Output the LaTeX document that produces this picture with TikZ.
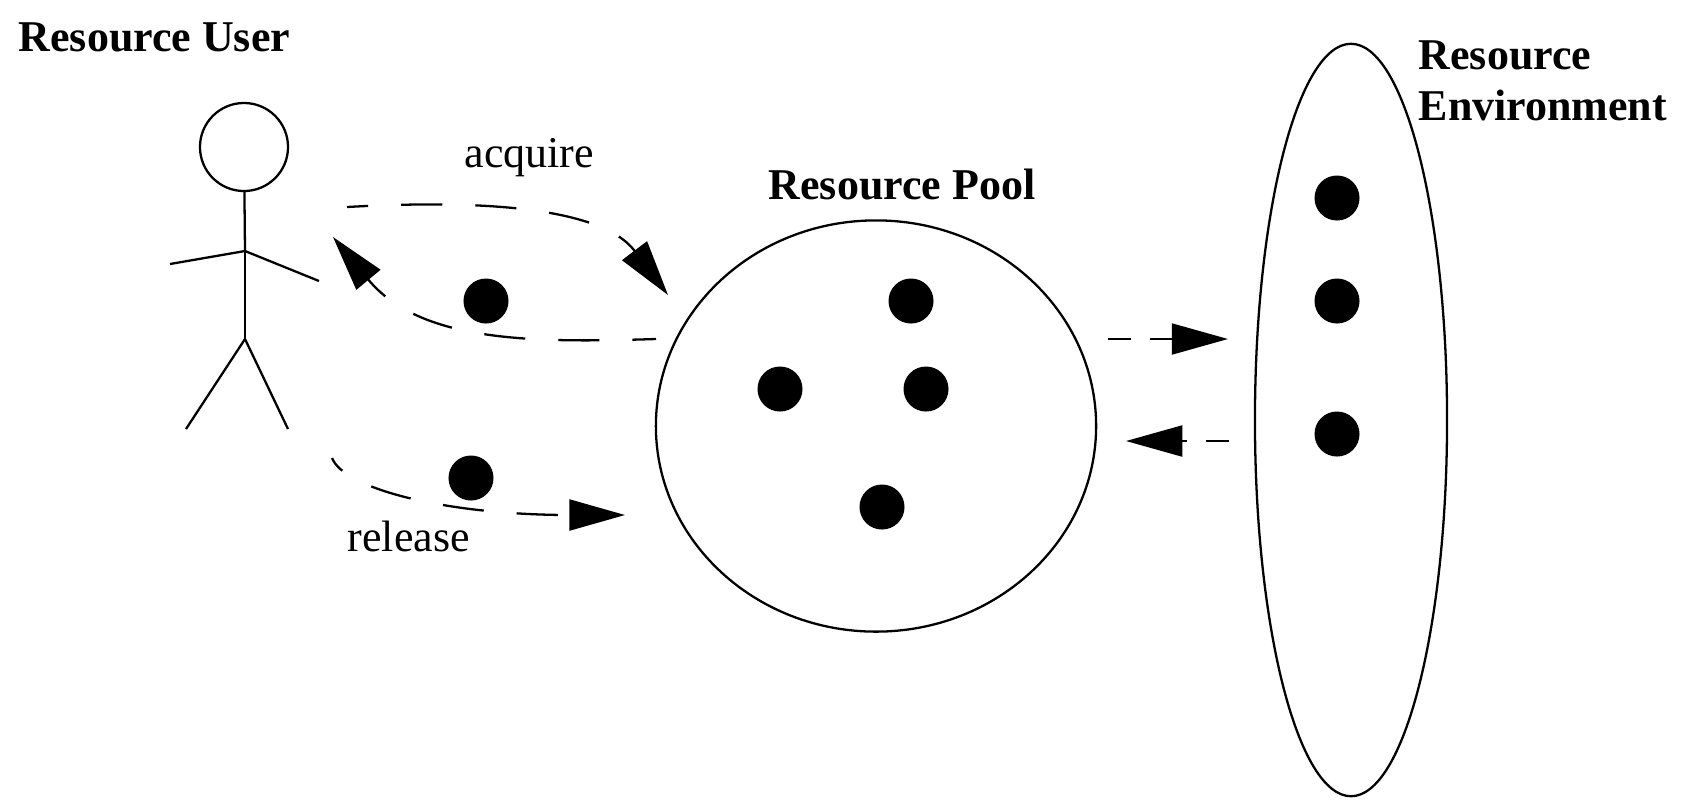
\documentclass[tikz,border=0pt]{standalone}
\usepackage{fontspec}
\setmainfont{Liberation Serif}
\usetikzlibrary{arrows.meta,shapes.geometric}
\tikzset{%
	title/.style    = {font=\fontsize{12.5}{14.5}\selectfont\bfseries, inner sep=0pt, anchor=base west, align=left},
	call/.style     = {font=\fontsize{12.5}{14.5}\selectfont, inner sep=0pt, anchor=base west},
	token/.style    = {circle, fill=black, minimum size=0.45cm, inner sep=0pt},
	waypoint/.style = {coordinate},
	limb/.style     = {line width=0.65pt},
	flow/.style     = {line width=0.65pt, dash pattern=on 11.7pt off 9.4pt, -{Triangle[length=15.8pt,width=8.8pt]}},
	shortflow/.style= {line width=0.65pt, dash pattern=on 6.5pt off 5.4pt, -{Triangle[length=16pt,width=8.8pt]}},
}
\begin{document}
\begin{tikzpicture}[x=0.01cm,y=-0.01cm]
	\useasboundingbox (0,0) rectangle (1691,811);
	\node [title] (ltitle) at (18,51) {Resource User};
	\node [title] (ptitle) at (768,199) {Resource Pool};
	\node [title,text width=3cm] (etitle) at (1418,69) {Resource\\Environment};
	\node [call] (lacq) at (464,167) {acquire};
	\node [call] (lrel) at (347,551) {release};

	% the user
	\node [draw,circle,line width=0.65pt,minimum size=0.88cm,inner sep=0pt] (head) at (244,147) {};
	\node [waypoint] (neck) at (245,251) {};
	\node [waypoint] (hip) at (245,339) {};
	\node [waypoint] (lhand) at (170,264) {};
	\node [waypoint] (rhand) at (319,281) {};
	\node [waypoint] (lfoot) at (186,429) {};
	\node [waypoint] (rfoot) at (288,429) {};
	\draw[limb] (head) -- (neck);
	\draw[limb] (neck) -- (hip);
	\draw[limb] (lhand) -- (neck);
	\draw[limb] (neck) -- (rhand);
	\draw[limb] (lfoot) -- (hip);
	\draw[limb] (hip) -- (rfoot);

	% pool and environment
	\node [draw,ellipse,line width=0.65pt,minimum width=4.40cm,minimum height=4.11cm,inner sep=0pt] (pool) at (876,426) {};
	\node [draw,ellipse,line width=0.65pt,minimum width=1.92cm,minimum height=7.52cm,inner sep=0pt] (env) at (1351,420) {};

	\node [token] (p1) at (911,301) {};
	\node [token] (p2) at (780,389) {};
	\node [token] (p3) at (926,389) {};
	\node [token] (p4) at (882,507) {};
	\node [token] (e1) at (1337,198) {};
	\node [token] (e2) at (1337,301) {};
	\node [token] (e3) at (1337,434) {};
	\node [token] (tacq) at (486,301) {};
	\node [token] (trel) at (471,478) {};

	\node [waypoint] (acqa) at (347,207) {};
	\node [waypoint] (acqb) at (668,295) {};
	\node [waypoint] (reta) at (656,339) {};
	\node [waypoint] (retb) at (333,237) {};
	\node [waypoint] (rela) at (332,458) {};
	\node [waypoint] (relb) at (625,515) {};
	\node [waypoint] (outa) at (1108,339) {};
	\node [waypoint] (outb) at (1228,339) {};
	\node [waypoint] (ina) at (1229,441) {};
	\node [waypoint] (inb) at (1126,441) {};

	\draw[flow,dash phase=5.7pt] (acqa) .. controls (470,200) and (600,205) .. (acqb);
	\draw[flow,dash phase=5pt] (reta) .. controls (530,343) and (420,342) .. (retb);
	\draw[flow,dash phase=7pt] (rela) .. controls (345,490) and (450,515) .. (relb);
	\draw[shortflow] (outa) -- (outb);
	\draw[shortflow] (ina) -- (inb);
\end{tikzpicture}
\end{document}
